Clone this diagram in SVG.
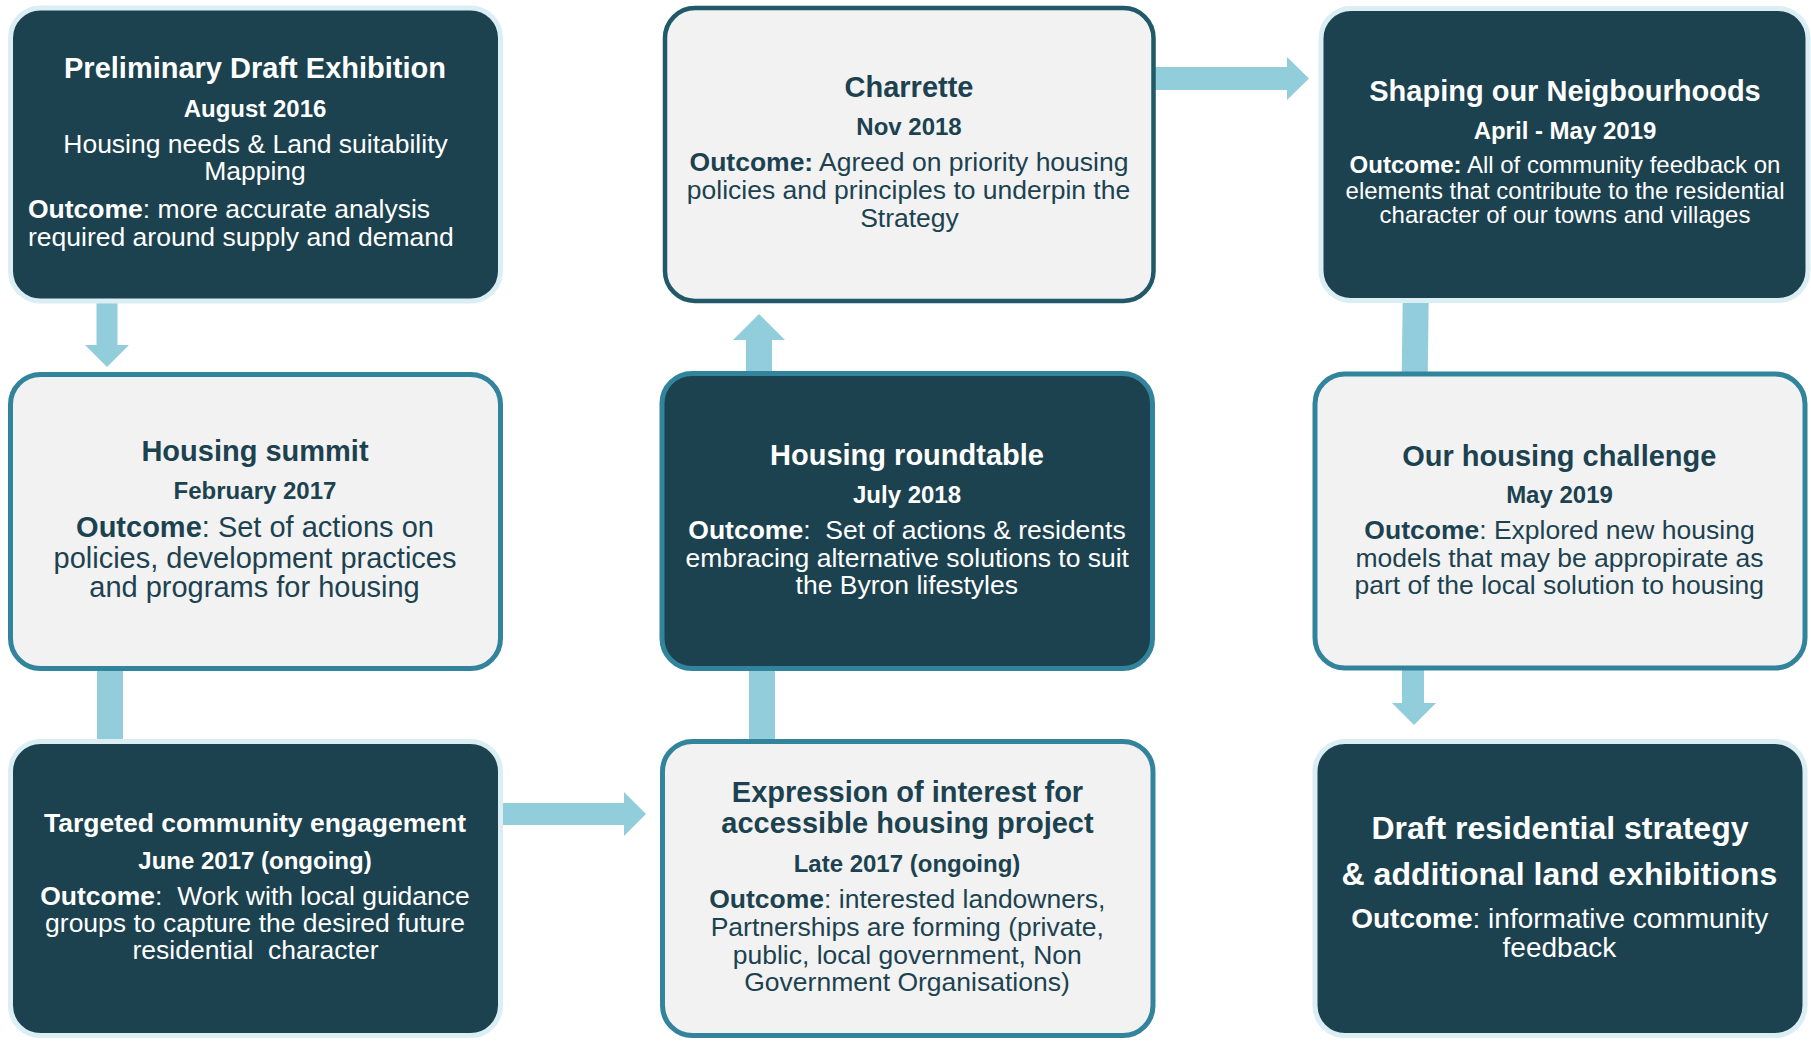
<svg xmlns="http://www.w3.org/2000/svg" width="1811" height="1042" viewBox="0 0 1811 1042">
<style>
.dark{fill:#1C4250;stroke:#DAEEF3;stroke-width:5}
.light{fill:#F2F2F2;stroke:#31849B;stroke-width:5}
.light2{fill:#F2F2F2;stroke:#215968;stroke-width:4.5}
.conn{fill:#92CDDC}
text{font-family:"Liberation Sans",Arial,sans-serif}
.w{fill:#FFFFFF}
.d{fill:#1C4250}
.c{text-anchor:middle}
.ti{font-size:29px;font-weight:bold}
.ti2{font-size:32px;font-weight:bold}
.dt{font-size:24px;font-weight:bold}
.bd{font-size:26.5px}
.bd24{font-size:24px}
.bd28{font-size:28px}
.bd29{font-size:29px}
.b{font-weight:bold}
</style>
<g id="connectors">
<polygon class="conn" points="96.5,300 117.5,300 117.5,345 129,345 107,367 85,345 96.5,345"/>
<rect class="conn" x="97" y="668" width="26" height="74"/>
<polygon class="conn" points="500,803 624,803 624,792 646,814 624,836 624,825 500,825"/>
<rect class="conn" x="749" y="668" width="26" height="74"/>
<polygon class="conn" points="746,376 746,340 733,340 759,314 785,340 772,340 772,376"/>
<polygon class="conn" points="1153,67 1287,67 1287,57 1309,78.5 1287,100 1287,90 1153,90"/>
<polygon class="conn" points="1402.7,300 1428.7,300 1427.7,376 1401.7,376"/>
<polygon class="conn" points="1402,668 1424,668 1424,703 1436,703 1414,725 1392,703 1402,703"/>
</g>
<g id="node1">
<rect class="dark" x="10.5" y="8" width="490" height="293" rx="30"/>
<text class="w c ti" x="255" y="78">Preliminary Draft Exhibition</text>
<text class="w c dt" x="255" y="117">August 2016</text>
<text class="w c bd" x="255.5" y="153">Housing needs &amp; Land suitability</text>
<text class="w c bd" x="255" y="180">Mapping</text>
<text class="w bd" x="28" y="218"><tspan class="b">Outcome</tspan>: more accurate analysis</text>
<text class="w bd" x="28" y="246">required around supply and demand</text>
</g>
<g id="node2">
<rect class="light2" x="665" y="8" width="488.5" height="293" rx="30"/>
<text class="d c ti" x="909" y="97">Charrette</text>
<text class="d c dt" x="909" y="135">Nov 2018</text>
<text class="d c bd" x="909" y="171"><tspan class="b">Outcome:</tspan> Agreed on priority housing</text>
<text class="d c bd" x="908.5" y="199">policies and principles to underpin the</text>
<text class="d c bd" x="909.5" y="227">Strategy</text>
</g>
<g id="node3">
<rect class="dark" x="1321" y="8.5" width="487" height="292" rx="30"/>
<text class="w c ti" x="1565" y="101">Shaping our Neigbourhoods</text>
<text class="w c dt" x="1565" y="139.3">April - May 2019</text>
<text class="w c bd24" x="1565" y="173.3"><tspan class="b">Outcome:</tspan> All of community feedback on</text>
<text class="w c bd24" x="1565" y="199">elements that contribute to the residential</text>
<text class="w c bd24" x="1565" y="223.3">character of our towns and villages</text>
</g>
<g id="node4">
<rect class="light" x="10.5" y="374.5" width="490" height="294" rx="30"/>
<text class="d c ti" x="255" y="461">Housing summit</text>
<text class="d c dt" x="255" y="499">February 2017</text>
<text class="d c bd29" x="255" y="537"><tspan class="b">Outcome</tspan>: Set of actions on</text>
<text class="d c bd29" x="255" y="568">policies, development practices</text>
<text class="d c bd29" x="254.5" y="597">and programs for housing</text>
</g>
<g id="node5">
<rect class="light" x="662" y="373.5" width="490.5" height="295" rx="30" style="fill:#1C4250"/>
<text class="w c ti" x="907" y="465">Housing roundtable</text>
<text class="w c dt" x="907" y="503">July 2018</text>
<text class="w c bd" x="907" y="539" xml:space="preserve"><tspan class="b">Outcome</tspan>:  Set of actions &amp; residents</text>
<text class="w c bd" x="907.3" y="567">embracing alternative solutions to suit</text>
<text class="w c bd" x="906.8" y="594">the Byron lifestyles</text>
</g>
<g id="node6">
<rect class="light" x="1315" y="374" width="490" height="294" rx="30"/>
<text class="d c ti" x="1559.3" y="465.7">Our housing challenge</text>
<text class="d c dt" x="1559.5" y="503.3">May 2019</text>
<text class="d c bd" x="1559.5" y="539.3"><tspan class="b">Outcome</tspan>: Explored new housing</text>
<text class="d c bd" x="1559.5" y="566.7">models that may be appropirate as</text>
<text class="d c bd" x="1559.3" y="594">part of the local solution to housing</text>
</g>
<g id="node7">
<rect class="dark" x="10.5" y="741.5" width="490" height="294" rx="30"/>
<text class="w c ti" x="255" y="832" style="font-size:26.5px">Targeted community engagement</text>
<text class="w c dt" x="255" y="869">June 2017 (ongoing)</text>
<text class="w c bd" x="255" y="905" xml:space="preserve"><tspan class="b">Outcome</tspan>:  Work with local guidance</text>
<text class="w c bd" x="255" y="932">groups to capture the desired future</text>
<text class="w c bd" x="255.5" y="959" xml:space="preserve">residential  character</text>
</g>
<g id="node8">
<rect class="light" x="662.5" y="741.5" width="490.5" height="294" rx="30"/>
<text class="d c ti" x="907.5" y="801.7">Expression of interest for</text>
<text class="d c ti" x="907.5" y="832.7">accessible housing project</text>
<text class="d c dt" x="907" y="871.7">Late 2017 (ongoing)</text>
<text class="d c bd" x="907.3" y="908"><tspan class="b">Outcome</tspan>: interested landowners,</text>
<text class="d c bd" x="907.3" y="936">Partnerships are forming (private,</text>
<text class="d c bd" x="907.3" y="964">public, local government, Non</text>
<text class="d c bd" x="907" y="990.7">Government Organisations)</text>
</g>
<g id="node9">
<rect class="dark" x="1315" y="741.5" width="490" height="294" rx="30"/>
<text class="w c ti2" x="1560" y="839.3">Draft residential strategy</text>
<text class="w c ti2" x="1559.4" y="885">&amp; additional land exhibitions</text>
<text class="w c bd28" x="1559.7" y="927.7"><tspan class="b">Outcome</tspan>: informative community</text>
<text class="w c bd28" x="1559.4" y="956.7">feedback</text>
</g>
</svg>
